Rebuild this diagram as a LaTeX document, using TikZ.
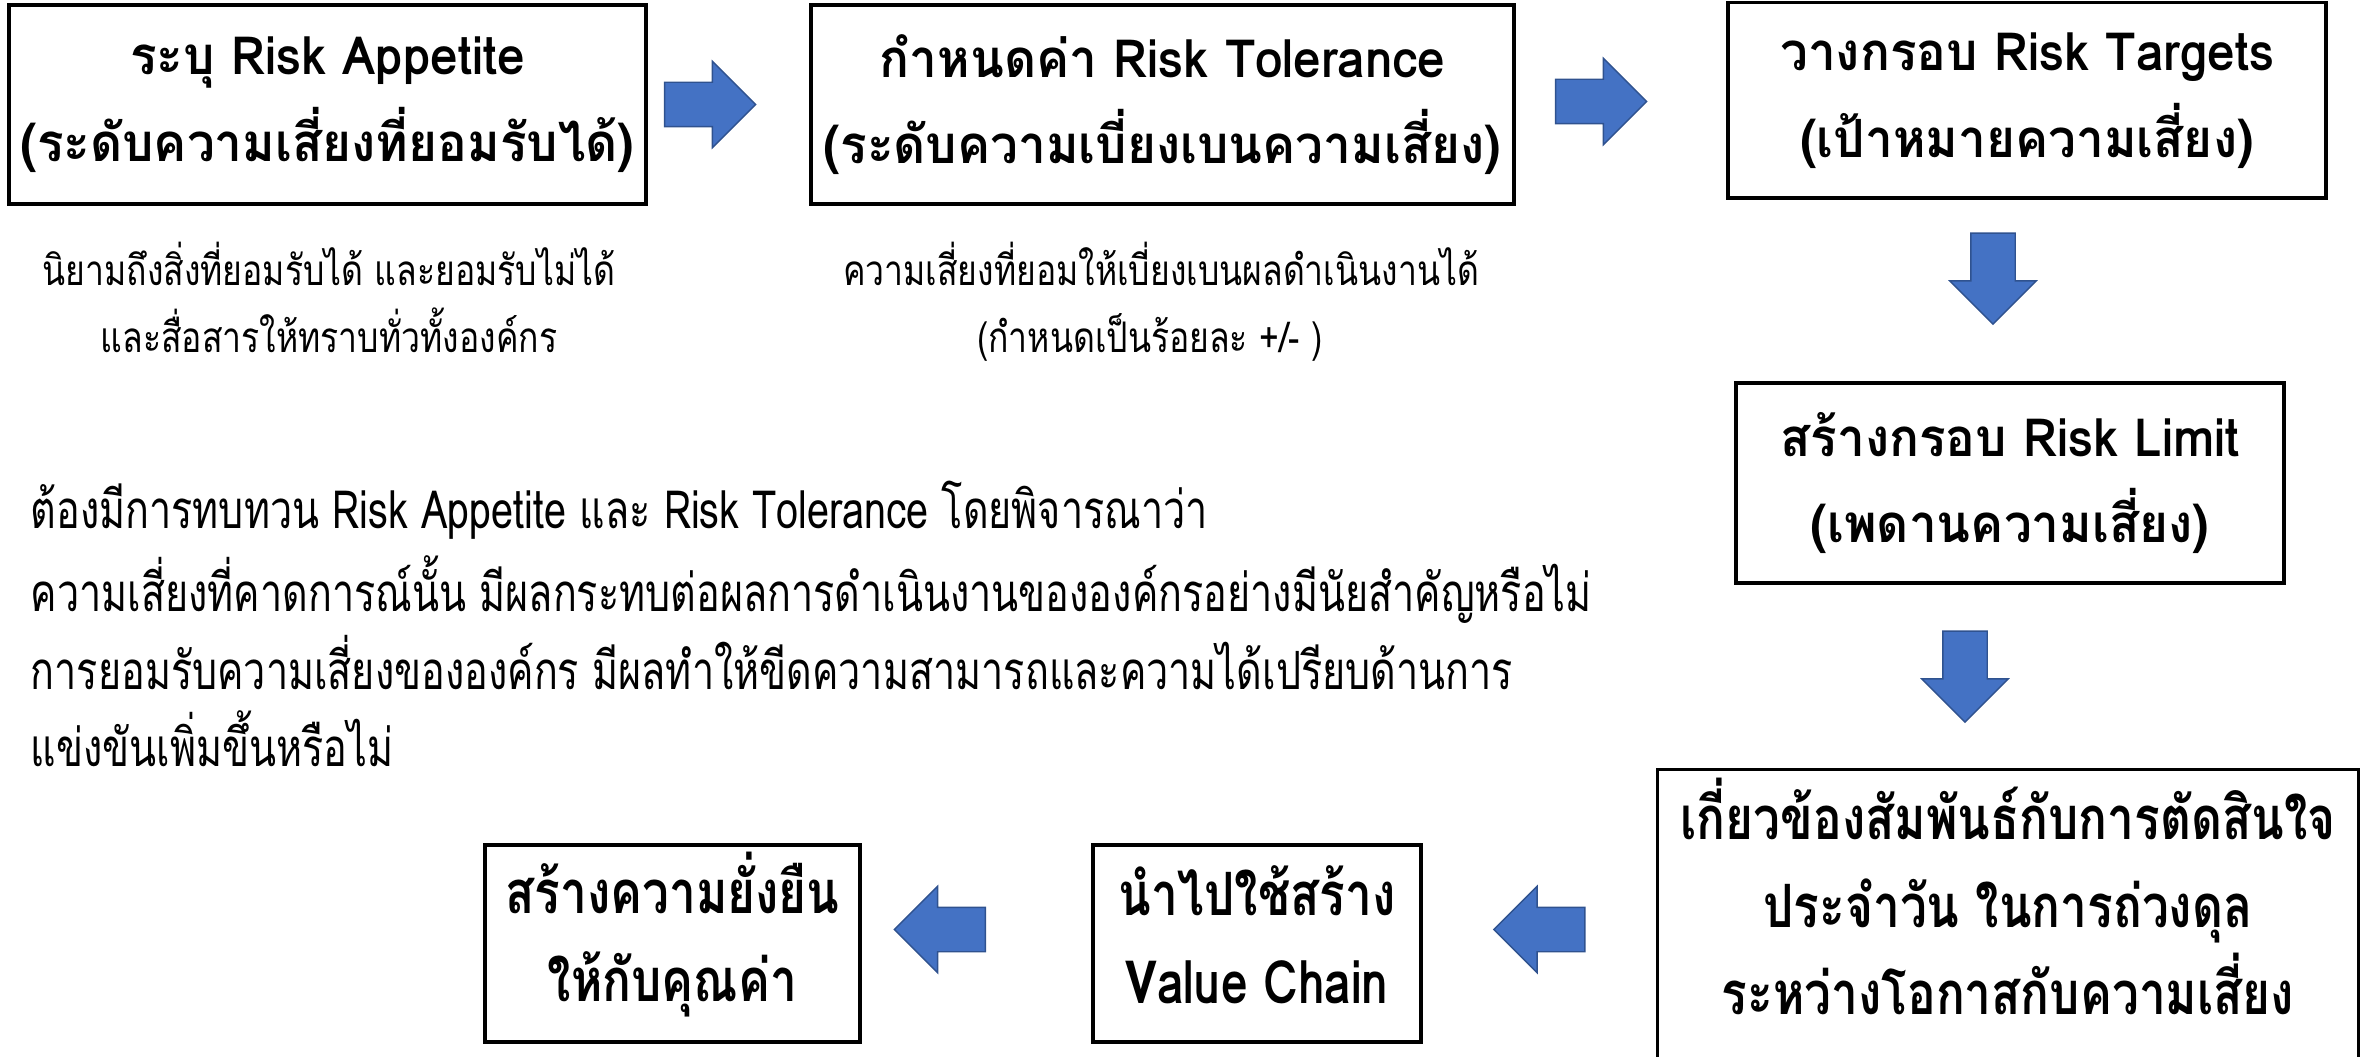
\documentclass[tikz,border=0pt]{standalone}
\usepackage{fontspec}
\setmainfont[Script=Thai, FakeStretch=0.94]{Loma}
\newfontfamily\narrowfont[Script=Thai, FakeStretch=0.80]{Loma}
\newfontfamily\slimfont[Script=Thai, FakeStretch=0.75]{Loma}
\usetikzlibrary{shapes.arrows,positioning,calc}
\definecolor{arrowblue}{HTML}{4472C4}
\definecolor{arrowedge}{HTML}{2F528F}

\begin{document}
\begin{tikzpicture}[
    box/.style={draw, line width=0.9pt, align=center, inner sep=0pt,
        font=\fontsize{15}{24.7}\selectfont\bfseries},
    frame/.style={draw, line width=0.9pt, inner sep=0pt},
    boxtext/.style={align=center, inner sep=0pt, font=\narrowfont\fontsize{17}{25}\selectfont\bfseries},
    blockarrow/.style={single arrow, fill=arrowblue, draw=arrowedge, line width=0.4pt,
        inner sep=0.215cm, minimum height=0.91cm, minimum width=0.85cm,
        single arrow head extend=0.21cm, single arrow tip angle=90},
    note/.style={anchor=base, inner sep=0pt, font=\narrowfont\fontsize{12}{18}\selectfont},
    textline/.style={anchor=base west, inner sep=0pt, font=\slimfont\fontsize{15}{22}\selectfont}
]
    % Page frame
    \clip (0,0) rectangle (23.67,10.56);

    % Top row
    \node[box, minimum width=6.37cm, minimum height=1.99cm] (appetite) at (3.275,9.515)
        {ระบุ Risk Appetite\\(ระดับความเสี่ยงที่ยอมรับได้)};
    \node[box, minimum width=7.03cm, minimum height=1.99cm] (tolerance) at (11.625,9.515)
        {กำหนดค่า Risk Tolerance\\(ระดับความเบี่ยงเบนความเสี่ยง)};
    \node[box, minimum width=5.98cm, minimum height=1.955cm] (targets) at (20.27,9.557)
        {วางกรอบ Risk Targets\\(เป้าหมายความเสี่ยง)};

    % Right column
    \node[box, minimum width=5.48cm, minimum height=2.00cm] (limit) at (20.10,5.73)
        {สร้างกรอบ Risk Limit\\(เพดานความเสี่ยง)};
    \node[boxtext, minimum width=7.00cm, minimum height=2.53cm] (balance) at (20.08,1.595)
        {เกี่ยวข้องสัมพันธ์กับการตัดสินใจ\\ประจำวัน ในการถ่วงดุล\\ระหว่างโอกาสกับความเสี่ยง};
    \draw[line width=0.9pt] ([yshift=-0.6cm]balance.south west) -- (balance.north west)
        -- (balance.north east) -- ([yshift=-0.6cm]balance.south east);

    % Bottom row
    \node[frame, minimum width=3.28cm, minimum height=1.97cm] (valuechain) at (12.57,1.125) {};
    \node[boxtext] (valuechaintext) at ([yshift=0.09cm]valuechain.center) {นำไปใช้สร้าง\\Value Chain};
    \node[frame, minimum width=3.75cm, minimum height=1.97cm] (sustain) at (6.725,1.125) {};
    \node[boxtext] (sustaintext) at ([yshift=0.09cm]sustain.center) {สร้างความยั่งยืน\\ให้กับคุณค่า};

    % Block arrows
    \node[blockarrow] (arr1) at (6.99,9.515) {};
    \node[blockarrow] (arr2) at (15.90,9.545) {};
    \node[blockarrow, rotate=-90] (arr3) at (19.93,7.885) {};
    \node[blockarrow, rotate=-90] (arr4) at (19.65,3.905) {};
    \node[blockarrow, rotate=180] (arr5) at (15.505,1.265) {};
    \node[blockarrow, rotate=180] (arr6) at (9.51,1.265) {};

    % Notes under the first two boxes
    \node[note] (appnote1) at (3.29,7.70) {นิยามถึงสิ่งที่ยอมรับได้ และยอมรับไม่ได้};
    \node[note] (appnote2) at (3.29,7.03) {และสื่อสารให้ทราบทั่วทั้งองค์กร};
    \node[note] (tolnote1) at (11.61,7.70) {ความเสี่ยงที่ยอมให้เบี่ยงเบนผลดำเนินงานได้};
    \node[note] (tolnote2) at (11.50,7.03) {(กำหนดเป็นร้อยละ +/- )};

    % Review text
    \node[textline] (review1) at (0.30,5.27) {ต้องมีการทบทวน Risk Appetite และ Risk Tolerance โดยพิจารณาว่า};
    \node[textline] (review2) at (0.30,4.44) {ความเสี่ยงที่คาดการณ์นั้น มีผลกระทบต่อผลการดำเนินงานขององค์กรอย่างมีนัยสำคัญหรือไม่};
    \node[textline] (review3) at (0.30,3.67) {การยอมรับความเสี่ยงขององค์กร มีผลทำให้ขีดความสามารถและความได้เปรียบด้านการ};
    \node[textline] (review4) at (0.30,2.90) {แข่งขันเพิ่มขึ้นหรือไม่};
\end{tikzpicture}
\end{document}
